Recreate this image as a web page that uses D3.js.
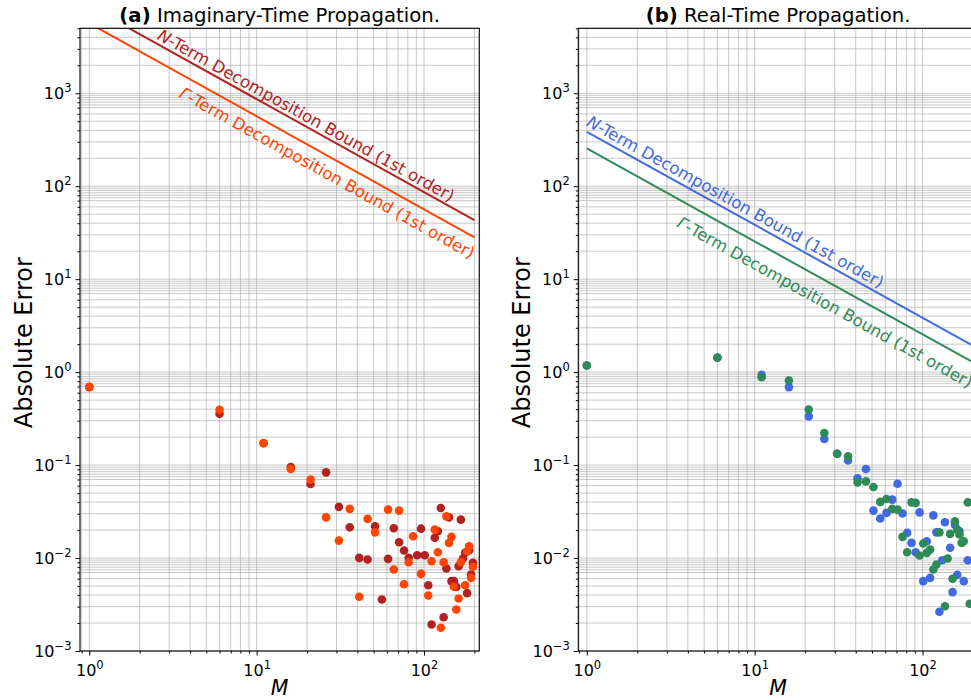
<!DOCTYPE html>
<html>
<head>
<meta charset="utf-8">
<script src="https://cdn.jsdelivr.net/npm/d3@7"></script>
<style>
  body { margin: 0; background: #fff; }
  svg { display: block; }
</style>
</head>
<body>
<div id="chart"></div>
<script>
// Truncation order M (x values shared by every scatter series)
const orders = [1, 6, 11, 16, 21, 26, 31, 36, 41, 46, 51, 56, 61, 66, 71, 76, 81, 86, 91, 96,
  101, 106, 111, 116, 121, 126, 131, 136, 141, 146, 151, 156, 161, 166, 171, 176, 181, 186, 191, 196];

// (a) imaginary-time errors
const imagErrN = [0.69, 0.356, 0.172, 0.0955, 0.0627, 0.0835, 0.0355, 0.0214, 0.01005, 0.00964,
  0.022, 0.00358, 0.0098, 0.0209, 0.0148, 0.01205, 0.01005, null, 0.01072, 0.0207,
  0.01072, 0.0051, 0.00193, 0.0165, 0.0194, 0.0346, 0.00231, 0.00771, 0.0274, 0.00564,
  0.00564, 0.0049, 0.00816, 0.0259, 0.00988, 0.01137, 0.00419, 0.01213, 0.00665, 0.00888];
const imagErrGamma = [0.695, 0.394, 0.173, 0.0908, 0.0697, 0.0274, 0.0154, 0.0338, 0.00383, 0.0264,
  0.0189, null, 0.0332, 0.00752, 0.0324, 0.00523, 0.00901, 0.01714, null, 0.00676,
  null, 0.00395, 0.00924, 0.0202, 0.01154, 0.00178, 0.00901, 0.0281, 0.01456, 0.0169,
  0.00491, 0.0028, 0.00367, 0.00901, null, 0.0051, 0.01183, 0.0134, 0.00612, 0.00805];

// (b) real-time errors
const realErrN = [1.18, 1.43, 0.935, 0.69, 0.334, 0.191, 0.1325, 0.112, 0.072, 0.0908,
  0.0324, 0.0266, 0.0306, 0.0425, 0.0631, 0.0301, 0.01866, 0.01456, 0.01154, 0.031,
  0.00564, 0.01517, 0.00612, 0.0288, 0.0189, 0.00264, 0.00946, 0.0243, null, 0.0129,
  0.0043, 0.0227, 0.00659, 0.0194, null, 0.00564, null, 0.00946, null, null];
const realErrGamma = [1.18, 1.435, 0.883, 0.813, 0.396, 0.221, 0.1325, 0.124, 0.0652, 0.0668,
  0.0582, 0.0402, 0.0432, 0.0338, 0.0332, 0.0169, 0.01154, 0.0397, 0.0392, 0.01064,
  0.01432, 0.01137, 0.01233, 0.00752, 0.00851, 0.0189, null, 0.00303, 0.00988, 0.0182,
  0.00598, 0.0248, 0.0202, 0.0179, 0.01456, 0.01517, null, 0.0397, 0.00322, null];

// First-order bounds, evaluated at the two ends of the M range
const boundM = [1, 200];
const imagBoundN = [8650, 43.25];
const imagBoundGamma = [5650, 28.25];
const realBoundN = [385, 1.925];
const realBoundGamma = [255, 1.275];

// Ticks
const xMajor = [1, 10, 100];
const xMajorExp = ["0", "1", "2"];
const yMajor = [1e-3, 1e-2, 1e-1, 1, 10, 100, 1000];
const yMajorExp = ["\u22123", "\u22122", "\u22121", "0", "1", "2", "3"];
const minorSteps = [2, 3, 4, 5, 6, 7, 8, 9];
const extraGridSteps = [7.5, 8.5, 9.5];

const W = 971, H = 700;
const plotTop = 28.3, plotBottom = 651;

const panels = [
  {
    key: "a", tag: "(a)", title: " Imaginary-Time Propagation.",
    left: 80, right: 479.3, xDomain: [0.88, 214],
    errN: imagErrN, errG: imagErrGamma, colN: "#b22222", colG: "#ff4500",
    bN: imagBoundN, bG: imagBoundGamma,
    labN: { m: 2.45, dy: -4 }, labG: { m: 3.9, dy: 21 },
  },
  {
    key: "b", tag: "(b)", title: " Real-Time Propagation.",
    left: 578.3, right: 978, xDomain: [0.89, 214],
    errN: realErrN, errG: realErrGamma, colN: "#4169e1", colG: "#2e8b57",
    bN: realBoundN, bG: realBoundGamma,
    labN: { m: 0.95, dy: -5 }, labG: { m: 4.0, dy: 25 },
  },
];

const svg = d3.select("#chart").append("svg")
  .attr("width", W).attr("height", H)
  .attr("font-family", "'DejaVu Sans', sans-serif");

const y = d3.scaleLog().domain([1e-3, 5e3]).range([plotBottom, plotTop]);

// minor values inside a log domain
function minorValues(domain, steps) {
  const out = [];
  for (let e = -4; e <= 4; e++) {
    steps.forEach((s) => {
      const v = s * Math.pow(10, e);
      if (v >= domain[0] && v <= domain[1]) out.push(v);
    });
  }
  return out;
}

function powerLabel(sel, exps) {
  sel.each(function (d, i) {
    const t = d3.select(this);
    t.text(null);
    t.append("tspan").text("10");
    t.append("tspan").attr("dy", -7).attr("font-size", 11.5).text(exps[i]);
  });
}

panels.forEach((p) => {
  const x = d3.scaleLog().domain(p.xDomain).range([p.left, p.right]);
  const g = svg.append("g");

  g.append("clipPath").attr("id", "clip-" + p.key)
    .append("rect")
    .attr("x", p.left).attr("y", plotTop)
    .attr("width", p.right - p.left).attr("height", plotBottom - plotTop);

  // grid
  const xGrid = xMajor.concat(minorValues(p.xDomain, minorSteps));
  const yGrid = yMajor.concat(minorValues(y.domain(), minorSteps), minorValues(y.domain(), extraGridSteps));
  const grid = g.append("g").attr("stroke", "#b0b0b0").attr("stroke-opacity", 0.7).attr("stroke-width", 1);
  grid.selectAll("line.vx").data(xGrid.filter((v) => v >= p.xDomain[0] && v <= p.xDomain[1]))
    .join("line").attr("class", "vx")
    .attr("x1", (d) => x(d)).attr("x2", (d) => x(d))
    .attr("y1", plotTop).attr("y2", plotBottom);
  grid.selectAll("line.hy").data(yGrid)
    .join("line").attr("class", "hy")
    .attr("y1", (d) => y(d)).attr("y2", (d) => y(d))
    .attr("x1", p.left).attr("x2", p.right);

  // bound lines + labels
  const plot = g.append("g").attr("clip-path", `url(#clip-${p.key})`);
  const line = d3.line().x((d) => x(d[0])).y((d) => y(d[1]));
  const bounds = [
    { vals: p.bN, col: p.colN, lab: p.labN, sym: "N" },
    { vals: p.bG, col: p.colG, lab: p.labG, sym: "\u0393" },
  ];
  bounds.forEach((b) => {
    const pts = boundM.map((m, i) => [m, b.vals[i]]);
    plot.append("path").datum(pts)
      .attr("d", line).attr("fill", "none")
      .attr("stroke", b.col).attr("stroke-width", 2);

    const slope = Math.log(b.vals[1] / b.vals[0]) / Math.log(boundM[1] / boundM[0]);
    const valAt = (m) => b.vals[0] * Math.pow(m / boundM[0], slope);
    const ang = Math.atan2(y(b.vals[1]) - y(b.vals[0]), x(boundM[1]) - x(boundM[0])) * 180 / Math.PI;
    const t = plot.append("text")
      .attr("transform", `translate(${x(b.lab.m)},${y(valAt(b.lab.m))}) rotate(${ang})`)
      .attr("dy", b.lab.dy)
      .attr("fill", b.col).attr("font-size", 16.5);
    t.append("tspan").attr("font-style", "italic").text(b.sym);
    t.append("tspan").text("-Term Decomposition Bound (1st order)");
  });

  // scatter: N-term first, Γ-term on top
  [{ vals: p.errN, col: p.colN }, { vals: p.errG, col: p.colG }].forEach((s) => {
    const pts = orders.map((m, i) => [m, s.vals[i]]).filter((d) => d[1] != null);
    plot.append("g").selectAll("circle").data(pts).join("circle")
      .attr("cx", (d) => x(d[0])).attr("cy", (d) => y(d[1]))
      .attr("r", 4.3).attr("fill", s.col);
  });

  // axes
  const xAx = g.append("g").attr("transform", `translate(0,${plotBottom})`)
    .call(d3.axisBottom(x).tickValues(xMajor).tickSize(4.5).tickPadding(5));
  xAx.selectAll(".tick text").attr("font-size", 16).attr("font-family", "'DejaVu Sans', sans-serif")
    .attr("dy", "0.95em").call(powerLabel, xMajorExp);
  g.append("g").attr("transform", `translate(0,${plotBottom})`)
    .call(d3.axisBottom(x).tickValues(minorValues(p.xDomain, minorSteps)).tickSize(2.5).tickFormat(""));

  const yAx = g.append("g").attr("transform", `translate(${p.left},0)`)
    .call(d3.axisLeft(y).tickValues(yMajor).tickSize(4.5).tickPadding(4));
  yAx.selectAll(".tick text").attr("font-size", 16).attr("font-family", "'DejaVu Sans', sans-serif")
    .attr("dy", "0.35em").call(powerLabel, yMajorExp);
  g.append("g").attr("transform", `translate(${p.left},0)`)
    .call(d3.axisLeft(y).tickValues(minorValues(y.domain(), minorSteps)).tickSize(2.5).tickFormat(""));

  g.selectAll(".domain").remove();
  g.selectAll(".tick line").attr("stroke", "#000").attr("stroke-width", 1);

  // frame
  g.append("rect")
    .attr("x", p.left).attr("y", plotTop)
    .attr("width", p.right - p.left).attr("height", plotBottom - plotTop)
    .attr("fill", "none").attr("stroke", "#000").attr("stroke-width", 1.1);

  // titles and axis labels
  const cx = (p.left + p.right) / 2;
  const title = g.append("text").attr("x", cx).attr("y", 22)
    .attr("text-anchor", "middle").attr("font-size", 19.7);
  title.append("tspan").attr("font-weight", "bold").text(p.tag);
  title.append("tspan").text(p.title);

  g.append("text").attr("x", cx).attr("y", 695)
    .attr("text-anchor", "middle").attr("font-size", 20.5).attr("font-style", "italic")
    .text("M");

  g.append("text")
    .attr("transform", `translate(${p.left - 48},${(plotTop + plotBottom) / 2 + 3}) rotate(-90)`)
    .attr("text-anchor", "middle").attr("font-size", 24)
    .text("Absolute Error");
});
</script>
</body>
</html>
